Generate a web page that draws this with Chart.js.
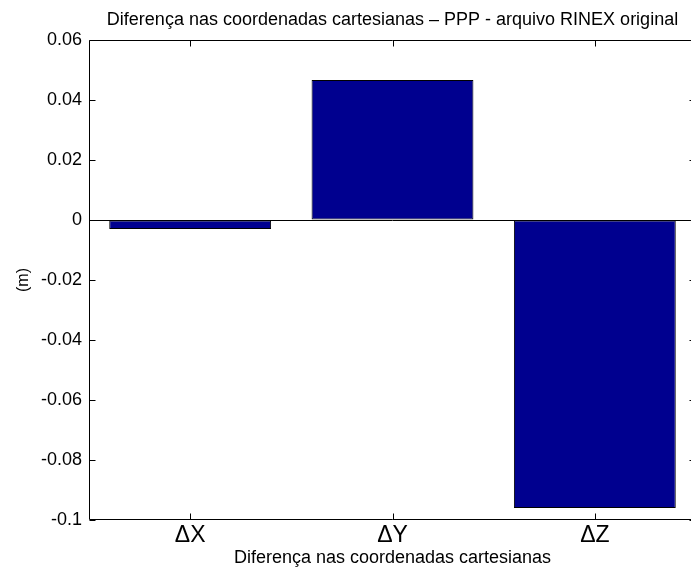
<!DOCTYPE html>
<html>
<head>
<meta charset="utf-8">
<script src="https://cdn.jsdelivr.net/npm/chart.js@4/dist/chart.umd.min.js"></script>
<style>
  html, body { margin: 0; padding: 0; background: #fff; overflow: hidden; }
  canvas { display: block; }
</style>
</head>
<body>
<canvas id="chart" width="700" height="571"></canvas>
<script>
const categories = ['ΔX', 'ΔY', 'ΔZ'];
const diffs = [-0.003, 0.0467, -0.096];
const yMin = -0.1;
const yMax = 0.06;
const yStep = 0.02;

const FONT = "'Liberation Sans', Arial, sans-serif";

// matlab-style box with inward tick marks
const axesBox = {
  id: 'axesBox',
  afterDatasetsDraw(chart) {
    const { ctx, chartArea: a, scales: { x, y } } = chart;
    const L = Math.round(a.left) + 0.5, R = Math.round(a.right) - 0.5;
    const T = Math.round(a.top) + 0.5, B = Math.round(a.bottom) - 0.5;
    const len = 6;
    ctx.save();
    ctx.strokeStyle = '#000';
    ctx.lineWidth = 1;
    ctx.beginPath();
    ctx.rect(L, T, R - L, B - T);
    y.ticks.forEach(t => {
      const py = Math.round(y.getPixelForValue(t.value)) + 0.5;
      ctx.moveTo(L, py); ctx.lineTo(L + len, py);
      ctx.moveTo(R, py); ctx.lineTo(R - len, py);
    });
    x.ticks.forEach((t, i) => {
      const px = Math.round(x.getPixelForTick(i)) + 0.5;
      ctx.moveTo(px, B); ctx.lineTo(px, B - len);
      ctx.moveTo(px, T); ctx.lineTo(px, T + len);
    });
    ctx.stroke();
    ctx.restore();
  }
};

new Chart(document.getElementById('chart'), {
  type: 'bar',
  data: {
    labels: categories,
    datasets: [{
      data: diffs,
      backgroundColor: 'rgb(0,0,143)',
      borderColor: '#000',
      borderWidth: 1,
      borderSkipped: false,
      barPercentage: 0.8,
      categoryPercentage: 1.0
    }]
  },
  options: {
    responsive: false,
    animation: false,
    devicePixelRatio: 1,
    layout: { padding: { left: 0, right: 4, top: 0, bottom: 0 } },
    plugins: {
      legend: { display: false },
      tooltip: { enabled: false },
      title: {
        display: true,
        fullSize: false,
        text: 'Diferença nas coordenadas cartesianas – PPP - arquivo RINEX original',
        color: '#000',
        font: { family: FONT, size: 18, weight: 'normal' },
        padding: { top: 9, bottom: 9.4 }
      }
    },
    scales: {
      x: {
        grid: { display: false, drawTicks: false },
        border: { display: false },
        ticks: { color: '#000', padding: 1.5, font: { family: FONT, size: 23 } },
        title: {
          display: true,
          text: 'Diferença nas coordenadas cartesianas',
          color: '#000',
          font: { family: FONT, size: 18 },
          padding: { top: 0, bottom: 2.4 }
        },
        afterFit: s => { s.height = 51; }
      },
      y: {
        min: yMin,
        max: yMax,
        grid: {
          drawTicks: false,
          color: c => (c.tick && Math.abs(c.tick.value) < 1e-9 ? '#000' : 'rgba(0,0,0,0)')
        },
        border: { display: false },
        ticks: {
          stepSize: yStep,
          color: '#000',
          padding: 7,
          font: { family: FONT, size: 18 },
          callback: v => String(parseFloat(v.toFixed(2)))
        },
        title: {
          display: true,
          text: '(m)',
          color: '#000',
          font: { family: FONT, size: 16 },
          padding: { top: 14.4, bottom: 0 }
        },
        afterFit: s => { s.width = 89; }
      }
    }
  },
  plugins: [axesBox]
});
</script>
</body>
</html>
